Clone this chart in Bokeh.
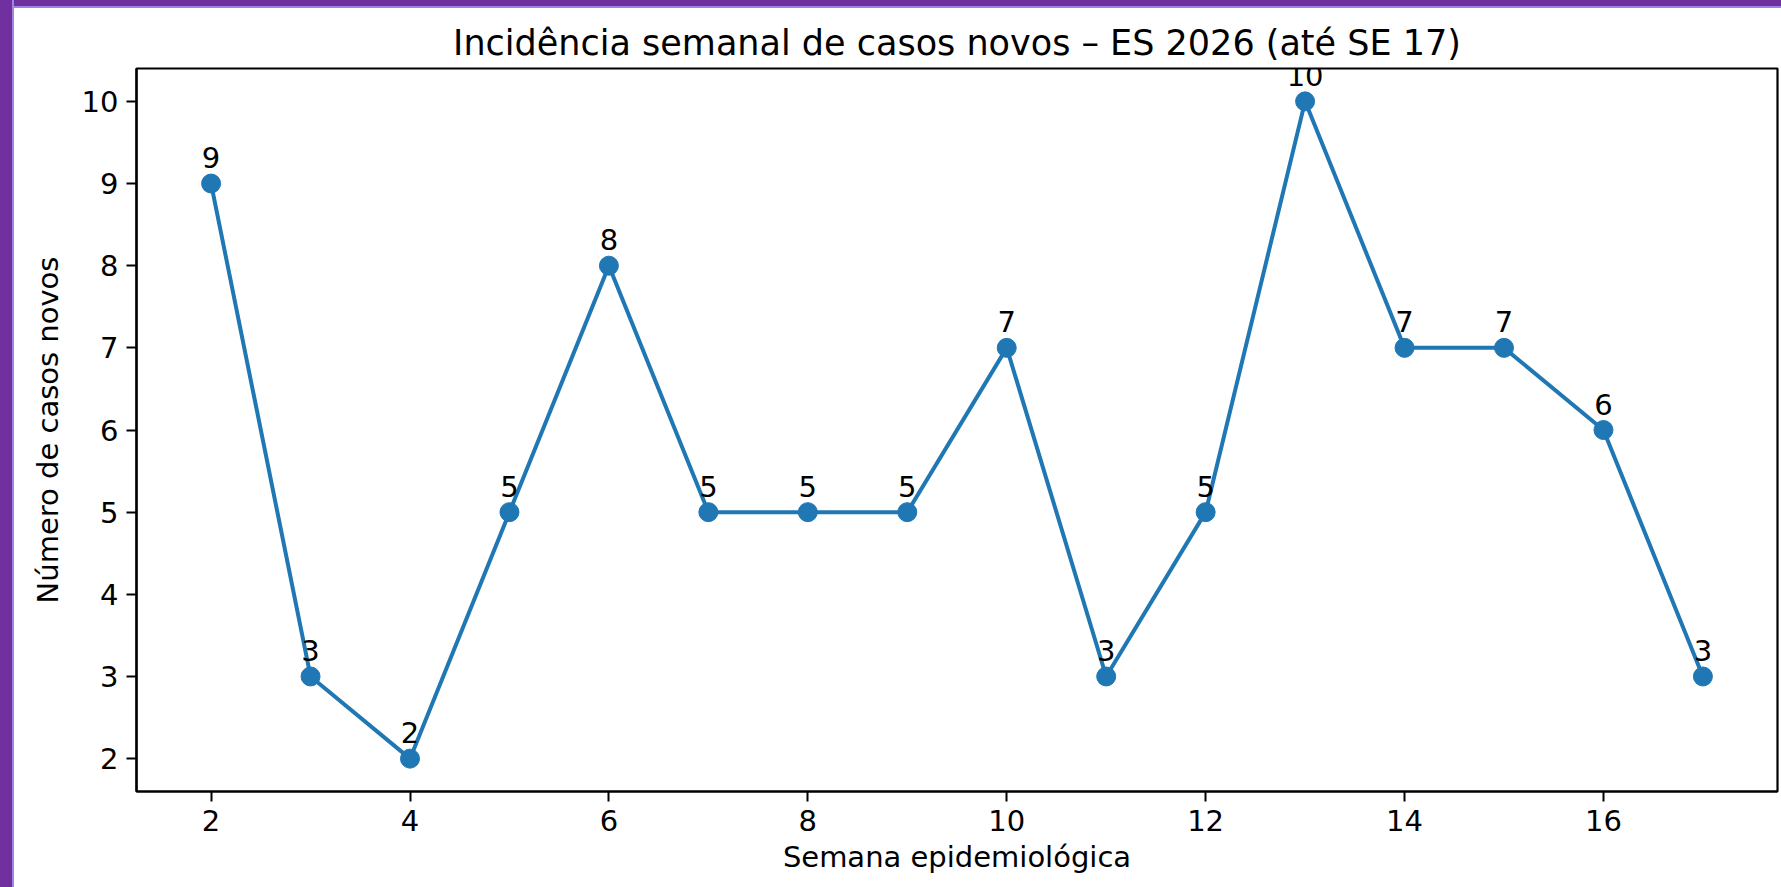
from bokeh.plotting import figure
from bokeh.models import Range1d, FixedTicker, ColumnDataSource
from bokeh.core.properties import value
from bokeh.embed import file_html
from bokeh.resources import INLINE

# Data
semanas = [2, 3, 4, 5, 6, 7, 8, 9, 10, 11, 12, 13, 14, 15, 16, 17]
casos = [9, 3, 2, 5, 8, 5, 5, 5, 7, 3, 5, 10, 7, 7, 6, 3]
x_ticks = [2, 4, 6, 8, 10, 12, 14, 16]
y_ticks = [2, 3, 4, 5, 6, 7, 8, 9, 10]
titulo = "Incidência semanal de casos novos – ES 2026 (até SE 17)"
x_label = "Semana epidemiológica"
y_label = "Número de casos novos"

FONT = "DejaVu Sans"
BLUE = "#1f77b4"
PURPLE = "#7030a0"

src = ColumnDataSource(dict(x=semanas, y=casos, lab=[str(v) for v in casos]))

p = figure(
    width=1781, height=887,
    x_range=Range1d(1.25, 17.75), y_range=Range1d(1.6, 10.4),
    output_backend="svg", toolbar_location=None,
    min_border_left=136, min_border_top=68, min_border_bottom=96, min_border_right=4,
    background_fill_color="white", border_fill_color=None,
)
# purple page frame on the left and top edges, white elsewhere
p.styles = {
    "background-color": "white",
    "background-image": (
        f"linear-gradient(to right, {PURPLE} 12px, #9b86e6 12px, #9b86e6 14px, transparent 14px), "
        f"linear-gradient(to bottom, {PURPLE} 6px, #9b86e6 6px, #9b86e6 8px, transparent 8px)"
    ),
    "background-repeat": "no-repeat",
    "background-size": "1781px 887px",
    "background-position": "0 0",
}

p.title.text = titulo
p.title.align = "center"
p.title.text_font = FONT
p.title.text_font_size = "35px"
p.title.text_font_style = "normal"
p.title.text_color = "black"
p.title.standoff = 12

p.xgrid.visible = False
p.ygrid.visible = False
p.outline_line_color = "black"
p.outline_line_width = 2.2
p.outline_line_alpha = 1.0

p.xaxis.ticker = FixedTicker(ticks=x_ticks)
p.yaxis.ticker = FixedTicker(ticks=y_ticks)
for ax in (p.xaxis, p.yaxis):
    ax.major_label_text_font = FONT
    ax.major_label_text_font_size = "29px"
    ax.major_label_text_color = "black"
    ax.axis_label_text_font = FONT
    ax.axis_label_text_font_size = "29px"
    ax.axis_label_text_font_style = "normal"
    ax.axis_label_text_color = "black"
    ax.minor_tick_line_color = None
    ax.major_tick_in = 0
    ax.major_tick_out = 10
    ax.major_tick_line_width = 2
    ax.major_tick_line_color = "black"
    ax.axis_line_color = "black"
    ax.axis_line_width = 2.2
    ax.major_label_standoff = 8

p.xaxis.axis_label = x_label
p.yaxis.axis_label = y_label
p.xaxis.axis_label_standoff = 6
p.yaxis.axis_label_standoff = 14

p.line("x", "y", source=src, line_color=BLUE, line_width=4)
p.scatter("x", "y", source=src, size=19, fill_color=BLUE, line_color=BLUE)
p.text("x", "y", text="lab", source=src, y_offset=-26,
       text_align="center", text_baseline="alphabetic",
       text_font=value(FONT), text_font_size="29px", text_color="black")

open("out.html", "w").write(file_html(p, INLINE))
